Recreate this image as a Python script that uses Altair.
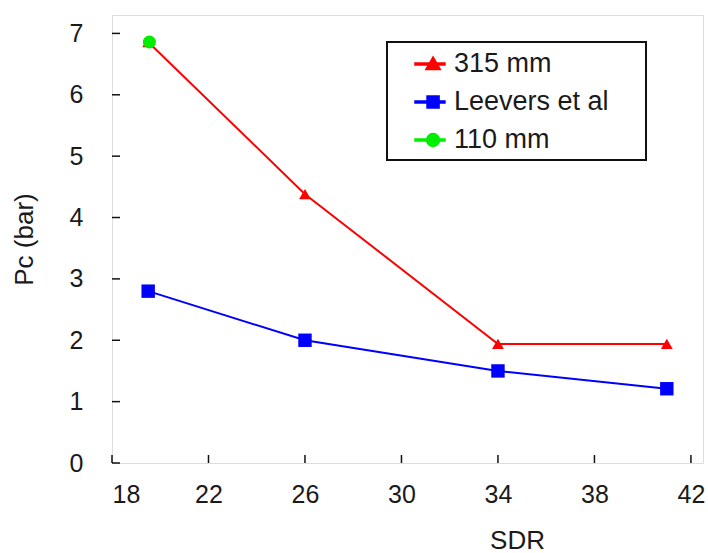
import altair as alt
import pandas as pd

# ---- data ----
series_names = ["315 mm", "Leevers et al", "110 mm"]
series_colors = ["#ff0000", "#0000ff", "#00ee00"]

sdr_315 = [19.5, 26, 34, 41]
pc_315 = [6.86, 4.38, 1.94, 1.94]

sdr_leevers = [19.5, 26, 34, 41]
pc_leevers = [2.8, 2.0, 1.5, 1.21]

sdr_110 = [19.55]
pc_110 = [6.86]

x_ticks = [18, 22, 26, 30, 34, 38, 42]
y_ticks = [0, 1, 2, 3, 4, 5, 6, 7]

# legend symbols: short line with marker (custom paths)
legend_paths = [
    "M-1,-0.075H1.14V0.075H-1Z M0.29,-0.5L0.81,0.4L-0.23,0.4Z",
    "M-1,-0.075H1.14V0.075H-1Z M-0.14,-0.43H0.72V0.43H-0.14Z",
    "M-1,-0.075H1.14V0.075H-1Z M0.75,0A0.46,0.46 0 1 1 -0.17,0A0.46,0.46 0 1 1 0.75,0Z",
]

rows = []
for x, y in zip(sdr_315, pc_315):
    rows.append({"SDR": x, "Pc": y, "series": "315 mm"})
for x, y in zip(sdr_leevers, pc_leevers):
    rows.append({"SDR": x, "Pc": y, "series": "Leevers et al"})
for x, y in zip(sdr_110, pc_110):
    rows.append({"SDR": x, "Pc": y, "series": "110 mm"})
df = pd.DataFrame(rows)

W, H = 591, 448
FONT = "Liberation Sans"

xscale = alt.Scale(domain=[18, 42.5], nice=False, zero=False)
yscale = alt.Scale(domain=[0, 7.3], nice=False, zero=False)
cscale = alt.Scale(domain=series_names, range=series_colors)

xaxis = alt.Axis(values=x_ticks, title="SDR", grid=False, domain=False, ticks=False,
                 tickSize=0, labelFontSize=25, labelPadding=19, labelColor="#1a1a1a",
                 labelFont=FONT, titleFont=FONT, titleFontSize=26, titleFontWeight="normal",
                 titleColor="#1a1a1a", titleX=405, titleY=64, titleAlign="center",
                 titleBaseline="top")
yaxis = alt.Axis(values=y_ticks, title="Pc (bar)", grid=False, domain=False, ticks=False,
                 tickSize=0, labelFontSize=25, labelPadding=29, labelColor="#1a1a1a",
                 labelFont=FONT, titleFont=FONT, titleFontSize=26, titleFontWeight="normal",
                 titleColor="#1a1a1a", titleAngle=-90, titleX=-88, titleY=H / 2,
                 titleAlign="center", titleBaseline="middle")

base = alt.Chart(df)

# hidden layer that only provides the legend (clipped outside the plot)
legend_df = pd.DataFrame({"series": series_names})
legend_layer = alt.Chart(legend_df).mark_point(filled=True, clip=True, size=10, opacity=1).encode(
    x=alt.datum(0, type="quantitative", scale=xscale, axis=xaxis),
    y=alt.datum(0, type="quantitative", scale=yscale, axis=yaxis),
    color=alt.Color("series:N", scale=cscale,
                    legend=alt.Legend(title=" ", titleOrient="right", titlePadding=30,
                                      titleFontSize=8,
                                      orient="none", legendX=275, legendY=27,
                                      strokeColor="#111", padding=7,
                                      fillColor="white",
                                      symbolSize=784, symbolOffset=20, labelOffset=10,
                                      rowPadding=10, labelFontSize=27, labelFont=FONT,
                                      labelColor="#1a1a1a", symbolOpacity=1)),
    shape=alt.Shape("series:N", scale=alt.Scale(domain=series_names, range=legend_paths)),
)

lines = base.transform_filter(alt.datum.series != "110 mm").mark_line(strokeWidth=2).encode(
    x=alt.X("SDR:Q", scale=xscale, axis=xaxis),
    y=alt.Y("Pc:Q", scale=yscale, axis=yaxis),
    color=alt.Color("series:N", scale=cscale, legend=None),
    detail="series:N",
)

def pts(name, shape, size):
    return base.transform_filter(alt.datum.series == name).mark_point(
        filled=True, shape=shape, size=size, opacity=1).encode(
        x=alt.X("SDR:Q", scale=xscale, axis=xaxis),
        y=alt.Y("Pc:Q", scale=yscale, axis=yaxis),
        color=alt.Color("series:N", scale=cscale, legend=None),
    )

p_blue = pts("Leevers et al", "square", 180)
p_red = pts("315 mm", "triangle-up", 140)
p_green = pts("110 mm", "circle", 170)

# inward tick marks
xt = alt.Chart(pd.DataFrame({"t": x_ticks})).mark_rule(color="#111", strokeWidth=1.5).encode(
    x=alt.X("t:Q", scale=xscale, axis=xaxis), y=alt.value(H), y2=alt.value(H - 8))
yt = alt.Chart(pd.DataFrame({"t": y_ticks})).mark_rule(color="#111", strokeWidth=1.5).encode(
    y=alt.Y("t:Q", scale=yscale, axis=yaxis), x=alt.value(0), x2=alt.value(8))

chart = alt.layer(legend_layer, xt, yt, lines, p_blue, p_red, p_green).properties(
    width=W, height=H,
    autosize=alt.AutoSizeParams(type="none"),
    padding={"left": 112, "top": 15, "right": 5, "bottom": 90},
).configure_view(stroke="#111", strokeWidth=2).configure(background="white"
).configure_legend(strokeWidth=2)

chart.save("out.html", embed_options={"renderer": "svg", "actions": False})
